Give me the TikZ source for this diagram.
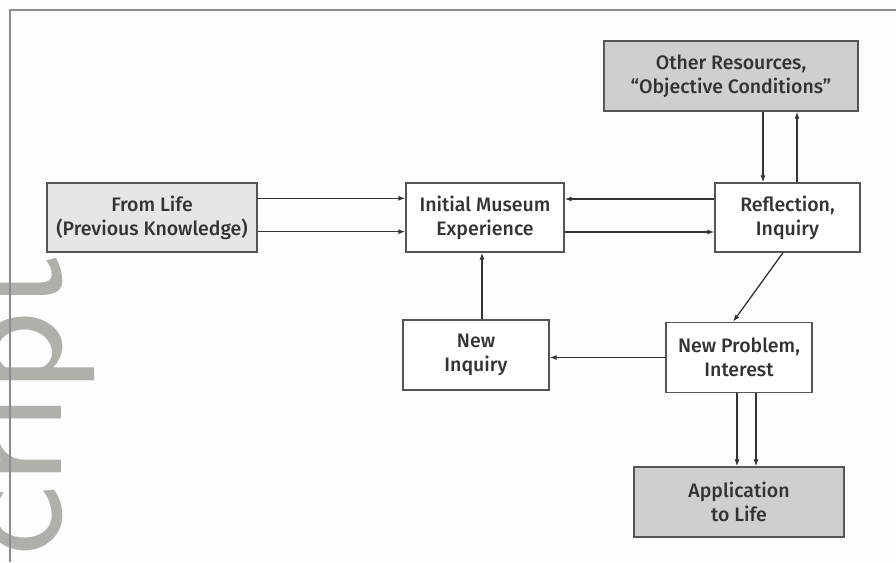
\documentclass[tikz,border=0pt]{standalone}
\usepackage{fontspec}
\setmainfont{Fira Sans}[BoldFont={Fira Sans Medium}]
\usepackage{tikz}
\usetikzlibrary{arrows.meta}

\definecolor{paper}{HTML}{FDFDFB}
\definecolor{frameline}{HTML}{8C8C8C}
\definecolor{boxline}{HTML}{555555}
\definecolor{ink}{HTML}{333333}
\definecolor{lightfill}{HTML}{E6E6E6}
\definecolor{darkfill}{HTML}{CFCFCF}
\definecolor{wmgrey}{HTML}{B0B0AB}

\begin{document}
\begin{tikzpicture}[x=1pt,y=1pt,
    every node/.style={inner sep=0pt},
    box/.style={draw=boxline, line width=1.3pt, fill=white, align=center, text=ink,
                font=\bfseries\fontsize{19.5}{24}\selectfont, minimum height=69},
    lifebox/.style={box, fill=lightfill},
    outbox/.style={box, fill=darkfill, minimum height=70},
    link/.style={draw=ink, line width=1.3pt, -{Latex[length=7pt,width=5pt]}},
    wmark/.style={text=wmgrey, font=\sffamily\fontsize{170}{170}\selectfont}]

    \useasboundingbox (0,0) rectangle (896,562);
    \fill[paper] (0,0) rectangle (896,562);

    % watermark fragment
    \begin{scope}
    \clip (0,0) rectangle (896,562);
    \node[wmark, rotate=90, anchor=base west] (wm) at (61,5) {cript};
    \end{scope}
    \draw[frameline, line width=1.6pt] (10,0) -- (10,552) -- (896,552);

    \node[lifebox, minimum width=210] (life) at (152,344.5) {From Life\\(Previous Knowledge)};
    \node[box, minimum width=158] (museum) at (485,344.5) {Initial Museum\\Experience};
    \node[box, minimum width=145] (refl) at (787.5,344.5) {Reflection,\\Inquiry};
    \node[outbox, minimum width=254] (res) at (731,486) {Other Resources,\\``Objective Conditions''};
    \node[box, minimum width=146, minimum height=70] (inquiry) at (476,207) {New\\Inquiry};
    \node[box, minimum width=146, minimum height=70] (prob) at (739,204.5) {New Problem,\\Interest};
    \node[outbox, minimum width=210] (app) at (739,60) {Application\\to Life};

    \draw[link] ([yshift=19.2]life.east) -- ([yshift=19.2]museum.west);
    \draw[link] ([yshift=-14.2]life.east) -- ([yshift=-14.2]museum.west);
    \draw[link] ([yshift=18.5]refl.west) -- ([yshift=18.5]museum.east);
    \draw[link] ([yshift=-14.5]museum.east) -- ([yshift=-14.5]refl.west);
    \draw[link] ([xshift=32]res.south) -- ([xshift=32]res.south |- refl.north);
    \draw[link] ([xshift=66]res.south |- refl.north) -- ([xshift=66]res.south);
    \draw[link] ([xshift=-4.5]refl.south) -- ([xshift=-6]prob.north);
    \draw[link] ([xshift=6]inquiry.north) -- ([xshift=6]inquiry.north |- museum.south);
    \draw[link] (prob.west) -- (prob.west -| inquiry.east);
    \draw[link] ([xshift=-2]prob.south) -- ([xshift=-2]prob.south |- app.north);
    \draw[link] ([xshift=17]prob.south) -- ([xshift=17]prob.south |- app.north);
\end{tikzpicture}
\end{document}
